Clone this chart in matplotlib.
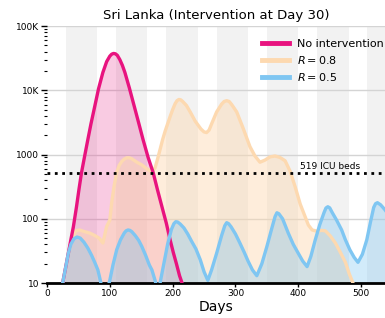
import matplotlib
matplotlib.use('Agg')
import matplotlib.pyplot as plt
from matplotlib.ticker import FixedLocator, FuncFormatter, LogLocator, NullFormatter

# ---------------------------
# 資料
# ---------------------------
no_days = [20, 25, 30, 34, 38, 42, 47, 51, 55, 60, 65, 70, 76, 82, 89, 95, 100, 103,
           106, 109, 112, 116, 120, 124, 131, 139, 146, 153, 161, 169, 176, 183,
           190, 196, 201, 206, 211, 215, 222]
no_vals = [5, 10, 18, 29, 47, 75, 154, 290, 525, 950, 1700, 3000, 5600, 10500, 19000,
           28000, 34000, 36500, 37500, 37000, 35000, 30000, 24500, 19000, 11000,
           5600, 3100, 1700, 900, 525, 280, 154, 85, 47, 30, 20, 13, 10, 5]

r08_days = [20, 25, 30, 34, 38, 42, 46, 52, 60, 68, 76, 83, 89, 95, 100, 103, 107,
            111, 115, 119, 123, 127, 131, 135, 143, 151, 160, 167, 172, 176, 180,
            184, 188, 192, 196, 200, 204, 207, 210, 213, 216, 222, 228, 236, 245,
            250, 254, 258, 262, 270, 278, 282, 286, 290, 294, 302, 312, 323, 331,
            339, 347, 355, 363, 371, 379, 387, 395, 403, 411, 416, 422, 430, 437,
            443, 451, 459, 467, 475, 481, 487, 492]
r08_vals = [5, 10, 18, 29, 43, 56, 65, 67, 63, 60, 55, 50, 42, 76, 95, 178, 330,
            525, 680, 780, 850, 890, 890, 860, 760, 690, 590, 540, 620, 850, 1200,
            1700, 2300, 3000, 3900, 5000, 6200, 6900, 7200, 7100, 6700, 5800, 4600,
            3300, 2500, 2250, 2200, 2400, 3000, 4600, 6100, 6700, 6900, 6700, 6000,
            4600, 2600, 1330, 950, 760, 820, 920, 950, 900, 800, 550, 315, 170, 107,
            80, 67, 64, 66, 65, 54, 42, 30, 21, 14, 10, 7]

r05_days = [20, 25, 30, 34, 38, 43, 48, 53, 59, 65, 71, 76, 81, 84, 88, 92, 96, 100,
            105, 111, 117, 123, 126, 129, 132, 135, 141, 146, 151, 157, 163, 167,
            172, 176, 180, 186, 192, 198, 202, 205, 208, 212, 218, 224, 230, 237,
            244, 250, 256, 262, 270, 278, 283, 286, 289, 293, 300, 307, 314, 320,
            327, 334, 342, 350, 358, 363, 366, 369, 375, 384, 392, 400, 407, 414,
            420, 427, 434, 441, 444, 447, 450, 454, 461, 469, 475, 482, 489, 495,
            502, 509, 515, 520, 523, 526, 531, 538, 545]
r05_vals = [5, 10, 18, 29, 40, 49, 52, 50, 43, 35, 27, 21, 16, 12, 8, 6, 8, 11,
            19, 33, 47, 60, 65, 67, 66, 63, 54, 46, 37, 27, 19, 16, 11, 8,
            10, 20, 40, 68, 84, 90, 89, 83, 72, 58, 45, 34, 23, 15, 11, 16,
            29, 55, 78, 87, 84, 75, 58, 42, 30, 22, 16, 13, 20, 37, 72, 108,
            124, 120, 100, 60, 40, 29, 22, 18, 26, 47, 80, 125, 147, 154, 148,
            125, 95, 67, 47, 33, 25, 21, 28, 47, 90, 150, 172, 178, 165, 138, 110]

icu_beds = 519
# 介入期間（灰色區塊）
band_starts = [30, 110, 190, 270, 350, 430, 510]
band_ends = [80, 160, 240, 320, 400, 480, 560]

magenta = '#e8137f'
peach = '#fdd9b0'
blue = '#7fc6f2'

fig = plt.figure(figsize=(3.85, 3.18), dpi=100)
ax = fig.add_axes([0.122, 0.110, 0.878, 0.808])

for s, e in zip(band_starts, band_ends):
    ax.axvspan(s, e, color='#f2f2f2', lw=0, zorder=0)

ax.set_yscale('log')
ax.set_xlim(0, 538)
ax.set_ylim(10, 100000)

ax.fill_between(no_days, 1, no_vals, color=magenta, alpha=0.22, lw=0, zorder=2)
ax.fill_between(r08_days, 1, r08_vals, color=peach, alpha=0.45, lw=0, zorder=2)
ax.fill_between(r05_days, 1, r05_vals, color=blue, alpha=0.35, lw=0, zorder=2)

ax.plot(r08_days, r08_vals, color=peach, lw=2.4, zorder=3, label='$R = 0.8$',
        solid_joinstyle='round')
ax.plot(no_days, no_vals, color=magenta, lw=2.4, zorder=4, label='No intervention',
        solid_joinstyle='round')
ax.plot(r05_days, r05_vals, color=blue, lw=2.4, zorder=5, label='$R = 0.5$',
        solid_joinstyle='round')

ax.axhline(icu_beds, color='black', lw=2, ls=':', zorder=6)
ax.text(450, icu_beds * 1.08, f'{icu_beds} ICU beds', fontsize=6.5,
        ha='center', va='bottom', zorder=7)

ax.yaxis.set_major_locator(FixedLocator([10, 100, 1000, 10000, 100000]))
ax.yaxis.set_major_formatter(FuncFormatter(
    lambda v, p: {10: '10', 100: '100', 1000: '1000', 10000: '10K', 100000: '100K'}.get(int(round(v)), '')))
ax.yaxis.set_minor_locator(LogLocator(base=10, subs=range(2, 10)))
ax.yaxis.set_minor_formatter(NullFormatter())
ax.grid(axis='y', which='major', color='#d4d4d4', lw=1, zorder=1)
ax.set_axisbelow(True)

ax.set_xticks([0, 100, 200, 300, 400, 500])
ax.tick_params(axis='x', labelsize=6.5, length=3, width=1, pad=1.5)
ax.tick_params(axis='y', which='major', labelsize=6.5, length=4, width=1, pad=1.5)
ax.tick_params(axis='y', which='minor', length=2, width=0.8)

for sp in ['left', 'right', 'top']:
    ax.spines[sp].set_visible(False)
ax.spines['bottom'].set_linewidth(2)

ax.set_xlabel('Days', fontsize=10, labelpad=1)
ax.set_title('Sri Lanka (Intervention at Day 30)', fontsize=9.5, pad=5)

h, l = ax.get_legend_handles_labels()
order = [1, 0, 2]
leg = ax.legend([h[i] for i in order], [l[i] for i in order], loc='upper left',
                bbox_to_anchor=(0.667, 0.895), bbox_transform=fig.transFigure,
                frameon=False, fontsize=8, borderpad=0, handlelength=2.4,
                handletextpad=0.7, labelspacing=0.45)
for line in leg.get_lines():
    line.set_linewidth(3.5)

fig.savefig('out.png', dpi=100)
